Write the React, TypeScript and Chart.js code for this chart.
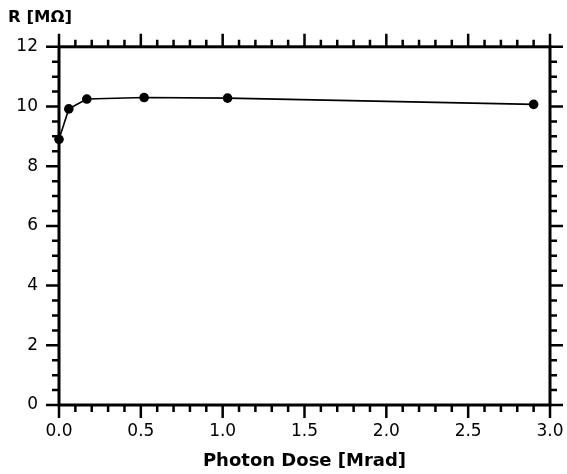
import React, { useEffect, useRef } from "react";
import { Chart, registerables } from "chart.js";

Chart.register(...registerables);

// Data
const doseMrad = [0.0, 0.06, 0.17, 0.52, 1.03, 2.9];
const resistanceMOhm = [8.9, 9.92, 10.25, 10.3, 10.28, 10.07];

// Axis ticks
const xMajorTicks = [0, 0.5, 1.0, 1.5, 2.0, 2.5, 3.0];
const xMinorTicks = [
  0.1, 0.2, 0.3, 0.4, 0.6, 0.7, 0.8, 0.9, 1.1, 1.2, 1.3, 1.4,
  1.6, 1.7, 1.8, 1.9, 2.1, 2.2, 2.3, 2.4, 2.6, 2.7, 2.8, 2.9,
];
const yMajorTicks = [0, 2, 4, 6, 8, 10, 12];
const yMinorTicks = [
  0.5, 1, 1.5, 2.5, 3, 3.5, 4.5, 5, 5.5, 6.5, 7, 7.5, 8.5, 9, 9.5, 10.5, 11, 11.5,
];

const xTitle = "Photon Dose [Mrad]";
const yTitle = "R [MΩ]";

const FONT = "'DejaVu Sans', 'Liberation Sans', Arial, sans-serif";

const framePlugin = {
  id: "frameTicks",
  beforeDatasetsDraw(chart: any) {
    const { ctx, chartArea } = chart;
    const { left, right, top, bottom } = chartArea;
    const xs = chart.scales.x;
    const ys = chart.scales.y;
    ctx.save();
    ctx.strokeStyle = "#000";
    ctx.lineCap = "butt";
    ctx.lineWidth = 3;
    ctx.strokeRect(left, top, right - left, bottom - top);
    ctx.lineWidth = 2.5;
    const MAJ = 13;
    const MIN = 7;
    const drawX = (vals: number[], len: number) => {
      vals.forEach((v) => {
        const px = xs.getPixelForValue(v);
        ctx.beginPath();
        ctx.moveTo(px, bottom);
        ctx.lineTo(px, bottom + len);
        ctx.moveTo(px, top);
        ctx.lineTo(px, top - len);
        ctx.stroke();
      });
    };
    const drawY = (vals: number[], len: number) => {
      vals.forEach((v) => {
        const py = ys.getPixelForValue(v);
        ctx.beginPath();
        ctx.moveTo(left, py);
        ctx.lineTo(left - len, py);
        ctx.moveTo(right, py);
        ctx.lineTo(right + len, py);
        ctx.stroke();
      });
    };
    drawX(xMinorTicks, MIN);
    drawX(xMajorTicks, MAJ);
    drawY(yMinorTicks, MIN);
    drawY(yMajorTicks, MAJ);
    ctx.restore();
  },
};

export default function App() {
  const canvasRef = useRef<HTMLCanvasElement | null>(null);

  useEffect(() => {
    if (!canvasRef.current) return;
    const chart = new Chart(canvasRef.current, {
      type: "line",
      data: {
        datasets: [
          {
            data: doseMrad.map((x, i) => ({ x, y: resistanceMOhm[i] })),
            borderColor: "#000",
            backgroundColor: "#000",
            borderWidth: 1.6,
            pointRadius: 4.8,
            pointBackgroundColor: "#000",
            pointBorderColor: "#000",
            pointBorderWidth: 0,
            tension: 0,
            fill: false,
            clip: false as any,
          },
        ],
      },
      options: {
        animation: false,
        responsive: true,
        maintainAspectRatio: false,
        layout: { padding: { left: 8, right: 17, top: 0, bottom: 0 } },
        plugins: {
          legend: { display: false },
          tooltip: { enabled: false },
          title: {
            display: true,
            text: yTitle,
            align: "start",
            position: "top",
            color: "#000",
            font: { family: FONT, size: 16.5, weight: "bold" },
            padding: { top: 8, bottom: 19 },
          },
        },
        scales: {
          x: {
            type: "linear",
            min: 0,
            max: 3,
            afterBuildTicks: (s: any) => {
              s.ticks = xMajorTicks.map((v) => ({ value: v }));
            },
            afterFit: (s: any) => {
              s.height = 69;
              s.paddingLeft = 0;
              s.paddingRight = 0;
            },
            ticks: {
              callback: (v: any) => Number(v).toFixed(1),
              color: "#000",
              font: { family: FONT, size: 17 },
              padding: 16,
              maxRotation: 0,
              autoSkip: false,
            },
            grid: { display: false, drawTicks: false },
            border: { display: false },
            title: {
              display: true,
              text: xTitle,
              color: "#000",
              font: { family: FONT, size: 18, weight: "bold" },
              padding: { top: 0, bottom: 2 },
            },
          },
          y: {
            type: "linear",
            min: 0,
            max: 12,
            afterBuildTicks: (s: any) => {
              s.ticks = yMajorTicks.map((v) => ({ value: v }));
            },
            afterFit: (s: any) => {
              s.width = 51;
              s.paddingTop = 0;
              s.paddingBottom = 0;
            },
            ticks: {
              color: "#000",
              font: { family: FONT, size: 17 },
              padding: 21,
              autoSkip: false,
            },
            grid: { display: false, drawTicks: false },
            border: { display: false },
          },
        },
      } as any,
      plugins: [framePlugin],
    });
    return () => chart.destroy();
  }, []);

  return (
    <div style={{ position: "absolute", left: 0, top: 0, width: 567, height: 474, background: "#fff" }}>
      <canvas ref={canvasRef} />
    </div>
  );
}
